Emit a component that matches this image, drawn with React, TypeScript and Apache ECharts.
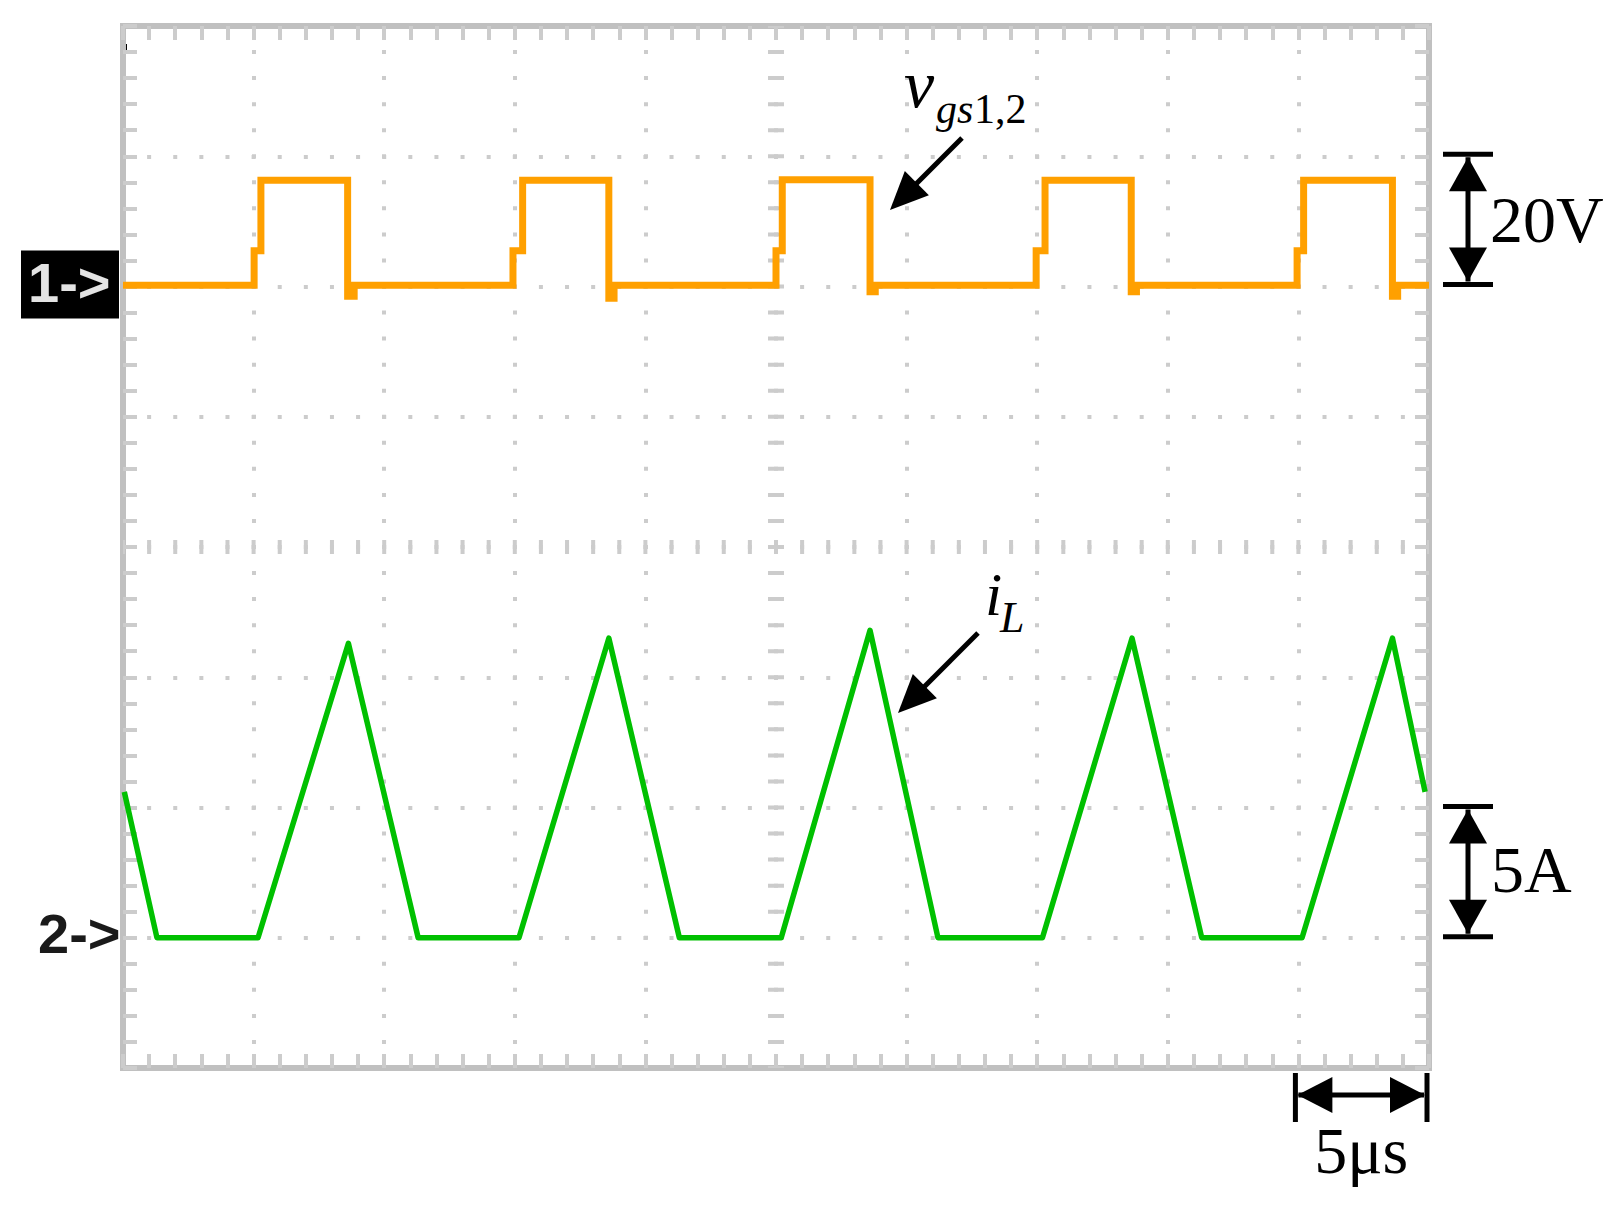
import React, { useEffect, useRef } from 'react';
import * as echarts from 'echarts';

// Oscilloscope settings
const timeRange = [0, 50]; // µs, 5 µs/div, 10 div
const ch1Range = [-120, 40]; // V, 20 V/div, ground at 6th division
const ch2Range = [-5, 35]; // A, 5 A/div, ground at 1st division
const timeDiv = 5;
const ch1Div = 20;
const ch2Div = 5;
const centerTime = 25;
const centerVolt = -40;

// Gate voltage vgs1,2 (channel 1), one entry per pulse
const gateRise = [5.02, 14.93, 25.0, 34.96, 44.95];
const gateStep = [5.28, 15.3, 25.24, 35.3, 45.2];
const gateFall = [8.6, 18.6, 28.6, 38.6, 48.6];
const gateFallEnd = [8.85, 18.8, 28.8, 38.8, 48.8];
const gateMid = [5.5, 5.5, 5.5, 5.5, 5.5];
const gateHigh = [16.3, 16.3, 16.4, 16.3, 16.3];
const gateUnder = [-1.5, -1.8, -0.8, -0.8, -1.5];
const gateGround = 0.2;

// Inductor current iL (channel 2)
const ilStart = [0.05, 5.6];
const ilZeroT = [1.3, 11.3, 21.3, 31.2, 41.3];
const ilRiseT = [5.17, 15.16, 25.2, 35.2, 45.14];
const ilPeakT = [8.63, 18.6, 28.6, 38.63, 48.6];
const ilPeak = [11.3, 11.5, 11.8, 11.5, 11.5];
const ilEnd = [49.85, 5.6];

function buildGate(): number[][] {
  const d: number[][] = [[timeRange[0], gateGround]];
  for (let i = 0; i < gateRise.length; i++) {
    d.push([gateRise[i], gateGround]);
    d.push([gateRise[i], gateMid[i]]);
    d.push([gateStep[i], gateMid[i]]);
    d.push([gateStep[i], gateHigh[i]]);
    d.push([gateFall[i], gateHigh[i]]);
    d.push([gateFall[i], gateUnder[i]]);
    d.push([gateFallEnd[i], gateUnder[i]]);
    d.push([gateFallEnd[i], gateGround]);
  }
  d.push([timeRange[1], gateGround]);
  return d;
}

function buildCurrent(): number[][] {
  const d: number[][] = [ilStart];
  d.push([ilZeroT[0], 0]);
  for (let i = 0; i < ilRiseT.length; i++) {
    d.push([ilRiseT[i], 0]);
    d.push([ilPeakT[i], ilPeak[i]]);
    if (i + 1 < ilZeroT.length) d.push([ilZeroT[i + 1], 0]);
  }
  d.push(ilEnd);
  return d;
}

const GRID = '#cccccc';
const BORDER = '#c0c0c0';
const ORANGE = '#ffa000';
const GREEN = '#00c000';

const axisCommon = (pos: string) => ({
  position: pos,
  axisLine: { show: true, onZero: false, lineStyle: { color: BORDER, width: 6, cap: 'square' } },
  axisTick: { show: true, inside: true, length: 14, lineStyle: { color: GRID, width: 4 } },
  minorTick: { show: true, splitNumber: 5, length: 14, lineStyle: { color: GRID, width: 4 } },
  axisLabel: { show: false },
  splitLine: { show: false },
});

export default function App() {
  const ref = useRef<HTMLDivElement>(null);
  useEffect(() => {
    if (!ref.current) return;
    const chart = echarts.init(ref.current, undefined, { renderer: 'svg' });
    const option: any = {
      animation: false,
      backgroundColor: '#ffffff',
      grid: { left: 123, top: 26, width: 1306, height: 1042, containLabel: false, outerBoundsMode: 'none' },
      xAxis: [
        {
          type: 'value', min: timeRange[0], max: timeRange[1], interval: timeDiv,
          ...axisCommon('bottom'),
          splitLine: { show: true, lineStyle: { color: GRID, width: 4, type: [4, 22.05], dashOffset: 2 } },
        },
        { type: 'value', min: timeRange[0], max: timeRange[1], interval: timeDiv, ...axisCommon('top') },
      ],
      yAxis: [
        {
          type: 'value', min: ch1Range[0], max: ch1Range[1], interval: ch1Div,
          ...axisCommon('left'),
          splitLine: { show: true, lineStyle: { color: GRID, width: 4, type: [4, 22.12], dashOffset: 2 } },
        },
        { type: 'value', min: ch2Range[0], max: ch2Range[1], interval: ch2Div, ...axisCommon('right') },
      ],
      series: [
        {
          name: 'crosshair', type: 'line', xAxisIndex: 0, yAxisIndex: 0, data: [], z: 1,
          markLine: {
            silent: true, symbol: 'none', label: { show: false }, animation: false,
            data: [
              { xAxis: centerTime, lineStyle: { color: GRID, width: 16, type: [4, 22.05], dashOffset: 2 } },
              { yAxis: centerVolt, lineStyle: { color: GRID, width: 14, type: [4, 22.12], dashOffset: 2 } },
            ],
          },
        },
        {
          name: 'vgs1,2', type: 'line', xAxisIndex: 0, yAxisIndex: 0, z: 5,
          data: buildGate(), showSymbol: false, symbol: 'none',
          lineStyle: { color: ORANGE, width: 7, join: 'miter' },
        },
        {
          name: 'iL', type: 'line', xAxisIndex: 0, yAxisIndex: 1, z: 5,
          data: buildCurrent(), showSymbol: false, symbol: 'none',
          lineStyle: { color: GREEN, width: 5.5, join: 'round' },
        },
      ],
    };
    chart.setOption(option);

    const p1 = (t: number, v: number) => chart.convertToPixel({ xAxisIndex: 0, yAxisIndex: 0 }, [t, v]) as number[];
    const p2 = (t: number, a: number) => chart.convertToPixel({ xAxisIndex: 0, yAxisIndex: 1 }, [t, a]) as number[];

    const lw = 5;
    const black = '#000000';
    const serif = '"Liberation Serif", "Times New Roman", serif';
    const sans = '"Liberation Sans", Arial, sans-serif';

    const vBar = (x: number, yTop: number, yBot: number) => [
      { type: 'line', shape: { x1: x - 25, y1: yTop, x2: x + 25, y2: yTop }, style: { stroke: black, lineWidth: lw } },
      { type: 'line', shape: { x1: x - 25, y1: yBot, x2: x + 25, y2: yBot }, style: { stroke: black, lineWidth: lw } },
      { type: 'line', shape: { x1: x, y1: yTop + 3, x2: x, y2: yBot - 3 }, style: { stroke: black, lineWidth: lw } },
      { type: 'polygon', shape: { points: [[x, yTop + 3], [x - 19, yTop + 37], [x + 19, yTop + 37]] }, style: { fill: black } },
      { type: 'polygon', shape: { points: [[x, yBot - 3], [x - 19, yBot - 37], [x + 19, yBot - 37]] }, style: { fill: black } },
    ];

    const ch1Top = p1(0, ch1Div)[1] - 2;
    const ch1Bot = p1(0, 0)[1] - 2;
    const ch2Top = p2(0, ch2Div)[1] - 1;
    const ch2Bot = p2(0, 0)[1] - 1;
    const xA = p1(timeRange[1] - timeDiv, 0)[0] - 3;
    const xB = p1(timeRange[1], 0)[0] - 2;
    const barX = 1468;
    const hBarY = 1095;

    const arrow = (x1: number, y1: number, tx: number, ty: number) => {
      const dx = tx - x1, dy = ty - y1;
      const L = Math.hypot(dx, dy);
      const ux = dx / L, uy = dy / L;
      const bx = tx - ux * 38, by = ty - uy * 38;
      const px = -uy * 17, py = ux * 17;
      return [
        { type: 'line', shape: { x1, y1, x2: bx + ux * 4, y2: by + uy * 4 }, style: { stroke: black, lineWidth: lw } },
        { type: 'polygon', shape: { points: [[tx, ty], [bx + px, by + py], [bx - px, by - py]] }, style: { fill: black } },
      ];
    };

    const txt = (text: string, x: number, y: number, font: string, fill = black, align = 'left') => ({
      type: 'text', z: 20,
      style: { text, x, y, font, fill, textAlign: align, textVerticalAlign: 'middle' },
    });

    const graphic: any[] = [
      { type: 'rect', shape: { x: 124, y: 44, width: 3, height: 6 }, style: { fill: black } },
      { type: 'rect', shape: { x: 21, y: ch1Bot - 34, width: 98, height: 68 }, style: { fill: '#000000' } },
      txt('1->', 28, ch1Bot - 2, `bold 56px ${sans}`, '#e4e4e4'),
      txt('2->', 38, ch2Bot - 3, `bold 56px ${sans}`, '#1a1a1a'),
      ...vBar(barX, ch1Top, ch1Bot),
      txt('20V', 1490, (ch1Top + ch1Bot) / 2, `66px ${serif}`),
      ...vBar(barX, ch2Top, ch2Bot),
      txt('5A', 1491, (ch2Top + ch2Bot) / 2 - 2, `66px ${serif}`),
      { type: 'line', shape: { x1: xA, y1: 1073, x2: xA, y2: 1122 }, style: { stroke: black, lineWidth: lw } },
      { type: 'line', shape: { x1: xB, y1: 1073, x2: xB, y2: 1122 }, style: { stroke: black, lineWidth: lw } },
      { type: 'line', shape: { x1: xA + 3, y1: hBarY, x2: xB - 3, y2: hBarY }, style: { stroke: black, lineWidth: lw } },
      { type: 'polygon', shape: { points: [[xA + 2, hBarY], [xA + 37, hBarY - 18], [xA + 37, hBarY + 18]] }, style: { fill: black } },
      { type: 'polygon', shape: { points: [[xB - 2, hBarY], [xB - 37, hBarY - 18], [xB - 37, hBarY + 18]] }, style: { fill: black } },
      txt('5μs', (xA + xB) / 2, 1150, `66px ${serif}`, black, 'center'),
      txt('v', 904, 84, `italic 68px ${serif}`),
      txt('gs', 936, 109, `italic 42px ${serif}`),
      txt('1,2', 974, 109, `42px ${serif}`),
      ...arrow(962, 138, 890, 210),
      txt('i', 985, 594, `italic 62px ${serif}`),
      txt('L', 1000, 617, `italic 44px ${serif}`),
      ...arrow(978, 633, 898, 713),
    ];
    chart.setOption({ graphic });

    return () => chart.dispose();
  }, []);
  return (
    <div
      ref={ref}
      style={{ position: 'absolute', left: 0, top: 0, width: 1618, height: 1206, background: '#fff' }}
    />
  );
}
